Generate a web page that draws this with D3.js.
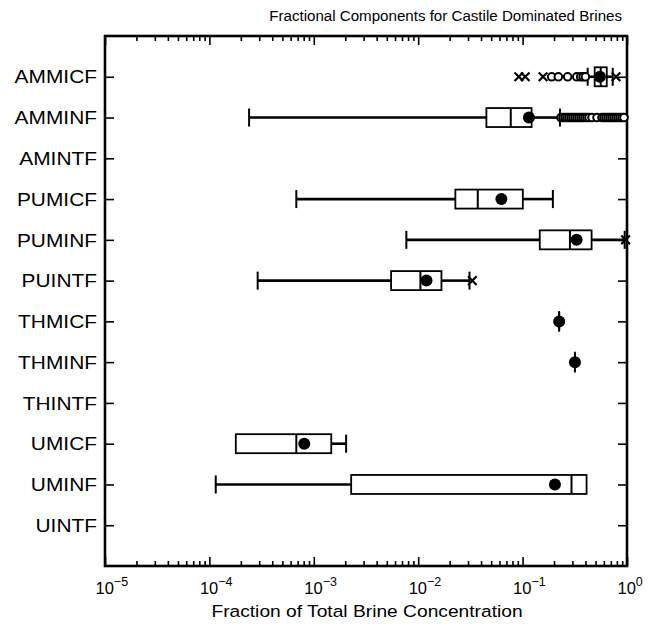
<!DOCTYPE html>
<html><head><meta charset="utf-8">
<script src="https://cdn.jsdelivr.net/npm/d3@7"></script>
<style>body{margin:0;background:#fff}svg{display:block}</style>
</head><body>
<svg id="c" width="660" height="632"></svg>
<script>
// ---- data ----
const categories = ["AMMICF","AMMINF","AMINTF","PUMICF","PUMINF","PUINTF","THMICF","THMINF","THINTF","UMICF","UMINF","UINTF"];
const whiskerLow  = [0.42,   2.4e-4, null, 6.8e-4, 0.0077, 2.9e-4, 0.224, 0.317, null, 1.79e-4, 1.15e-4, null];
const q1Values    = [0.49,   0.045,  null, 0.0227, 0.146,  0.0055, 0.224, 0.317, null, 1.79e-4, 2.28e-3, null];
const medianValues= [0.56,   0.077,  null, 0.0372, 0.284,  0.0105, 0.224, 0.317, null, 6.8e-4,  0.294,   null];
const q3Values    = [0.64,   0.122,  null, 0.1005, 0.458,  0.0167, 0.224, 0.317, null, 1.47e-3, 0.41,    null];
const whiskerHigh = [0.73,   0.228,  null, 0.195,  0.95,   0.031,  0.224, 0.317, null, 2.04e-3, 0.41,    null];
const meanValues  = [0.55,   0.115,  null, 0.0626, 0.329,  0.012,  0.224, 0.317, null, 8.1e-4,  0.204,   null];
// open-circle outliers [category, value]
const circleOutliers = [
  ["AMMICF",0.19],["AMMICF",0.22],["AMMICF",0.27],["AMMICF",0.33],["AMMICF",0.36],["AMMICF",0.38],["AMMICF",0.40],
  ["AMMINF",0.233],["AMMINF",0.244],["AMMINF",0.255],["AMMINF",0.266],["AMMINF",0.278],["AMMINF",0.291],
  ["AMMINF",0.304],["AMMINF",0.318],["AMMINF",0.332],["AMMINF",0.347],["AMMINF",0.363],["AMMINF",0.379],
  ["AMMINF",0.396],["AMMINF",0.414],["AMMINF",0.433],["AMMINF",0.462],["AMMINF",0.516],
  ["AMMINF",0.576],["AMMINF",0.602],["AMMINF",0.629],["AMMINF",0.658],["AMMINF",0.688],["AMMINF",0.719],
  ["AMMINF",0.751],["AMMINF",0.785],["AMMINF",0.820],["AMMINF",0.857],["AMMINF",0.896],["AMMINF",0.936]
];
// cross (x) outliers [category, value]
const crossOutliers = [
  ["AMMICF",0.092],["AMMICF",0.106],["AMMICF",0.157],["AMMICF",0.785],
  ["PUMINF",0.97],["PUINTF",0.033]
];
const xTickPowers = [-5,-4,-3,-2,-1,0];
const titleText = "Fractional Components for Castile Dominated Brines";
const xLabelText = "Fraction of Total Brine Concentration";

// ---- drawing ----
const svg = d3.select("#c");
const L = 105, R = 627, T = 36, B = 566;
const FONT = "'Liberation Sans', Arial, Helvetica, sans-serif";
const STRETCH = 1.13;

const x = d3.scaleLog().domain([1e-5, 1]).range([L, R]);
const y = d3.scalePoint().domain(categories).range([T, B]).padding(1);

svg.append("rect").attr("width",660).attr("height",632).attr("fill","#fff");

const minorVals = x.ticks().filter(v => {
  const l = Math.log10(v); return Math.abs(l - Math.round(l)) > 1e-9;
});
const majorVals = xTickPowers.map(p => Math.pow(10, p));

const gB = svg.append("g").attr("transform",`translate(0,${B})`);
gB.call(d3.axisBottom(x).tickValues(minorVals).tickSize(-5).tickFormat(""));
gB.append("g").call(d3.axisBottom(x).tickValues(majorVals).tickSize(-9).tickFormat(""));
const gT = svg.append("g").attr("transform",`translate(0,${T})`);
gT.call(d3.axisTop(x).tickValues(minorVals).tickSize(-5).tickFormat(""));
gT.append("g").call(d3.axisTop(x).tickValues(majorVals).tickSize(-9).tickFormat(""));

const gL = svg.append("g").attr("transform",`translate(${L},0)`)
  .call(d3.axisLeft(y).tickSize(-9).tickFormat(""));
const gR = svg.append("g").attr("transform",`translate(${R},0)`)
  .call(d3.axisRight(y).tickSize(-9).tickFormat(""));

svg.selectAll(".domain").remove();
svg.selectAll(".tick line").attr("stroke","#000").attr("stroke-width",1.6);

// y category labels (wide Helvetica look)
categories.forEach(c => {
  svg.append("text").attr("transform",`translate(97,${y(c)}) scale(${STRETCH},1)`)
    .attr("dy","0.36em").attr("text-anchor","end")
    .attr("font-family",FONT).attr("font-size",18.5).attr("fill","#000").text(c);
});

// frame
svg.append("rect").attr("x",L).attr("y",T).attr("width",R-L).attr("height",B-T)
  .attr("fill","none").attr("stroke","#000").attr("stroke-width",2.6);

// x tick labels 10^n
majorVals.forEach((v,i) => {
  const t = svg.append("text").attr("font-family",FONT).attr("font-size",16.5)
    .attr("x", x(v) - 9.5).attr("y", 594).attr("fill","#000");
  t.append("tspan").text("10");
  t.append("tspan").attr("font-size",12.5).attr("dy",-8)
    .text(xTickPowers[i] === 0 ? "0" : "\u2212" + Math.abs(xTickPowers[i]));
});

// title and axis label
svg.append("text").attr("transform",`translate(622,21) scale(1.08,1)`).attr("text-anchor","end")
  .attr("font-family",FONT).attr("font-size",14).attr("fill","#000").text(titleText);
svg.append("text").attr("transform",`translate(367,617) scale(${STRETCH},1)`).attr("text-anchor","middle")
  .attr("font-family",FONT).attr("font-size",17).attr("fill","#000").text(xLabelText);

// boxes
const boxH = 19, capH = 18;
const g = svg.append("g");
categories.forEach((c,i) => {
  if (q1Values[i] == null) return;
  const cy = y(c);
  const lo = whiskerLow[i], hi = whiskerHigh[i];
  if (lo < q1Values[i]) {
    g.append("line").attr("x1",x(lo)).attr("x2",x(q1Values[i])).attr("y1",cy).attr("y2",cy)
      .attr("stroke","#000").attr("stroke-width",2.6);
    g.append("line").attr("x1",x(lo)).attr("x2",x(lo)).attr("y1",cy-capH/2).attr("y2",cy+capH/2)
      .attr("stroke","#000").attr("stroke-width",2);
  }
  if (hi > q3Values[i]) {
    g.append("line").attr("x1",x(q3Values[i])).attr("x2",x(hi)).attr("y1",cy).attr("y2",cy)
      .attr("stroke","#000").attr("stroke-width",2.6);
    g.append("line").attr("x1",x(hi)).attr("x2",x(hi)).attr("y1",cy-capH/2).attr("y2",cy+capH/2)
      .attr("stroke","#000").attr("stroke-width",2);
  }
  g.append("rect").attr("x",x(q1Values[i])).attr("y",cy-boxH/2)
    .attr("width",Math.max(0.01,x(q3Values[i])-x(q1Values[i]))).attr("height",boxH)
    .attr("fill","#fff").attr("stroke","#000").attr("stroke-width",1.8);
  g.append("line").attr("x1",x(medianValues[i])).attr("x2",x(medianValues[i]))
    .attr("y1",cy-boxH/2).attr("y2",cy+boxH/2).attr("stroke","#000").attr("stroke-width",2);
  g.append("circle").attr("cx",x(meanValues[i])).attr("cy",cy).attr("r",6).attr("fill","#000");
});

// outliers
g.selectAll("circle.out").data(circleOutliers).join("circle").attr("class","out")
  .attr("cx",d=>x(d[1])).attr("cy",d=>y(d[0])).attr("r",3.8)
  .attr("fill","#fff").attr("stroke","#000").attr("stroke-width",2);
const cs = 4.3;
g.selectAll("path.cross").data(crossOutliers).join("path").attr("class","cross")
  .attr("d",d=>{const cx=x(d[1]), cy=y(d[0]);
    return `M${cx-cs},${cy-cs}L${cx+cs},${cy+cs}M${cx-cs},${cy+cs}L${cx+cs},${cy-cs}`;})
  .attr("stroke","#000").attr("stroke-width",2.2).attr("fill","none");
</script>
</body></html>
